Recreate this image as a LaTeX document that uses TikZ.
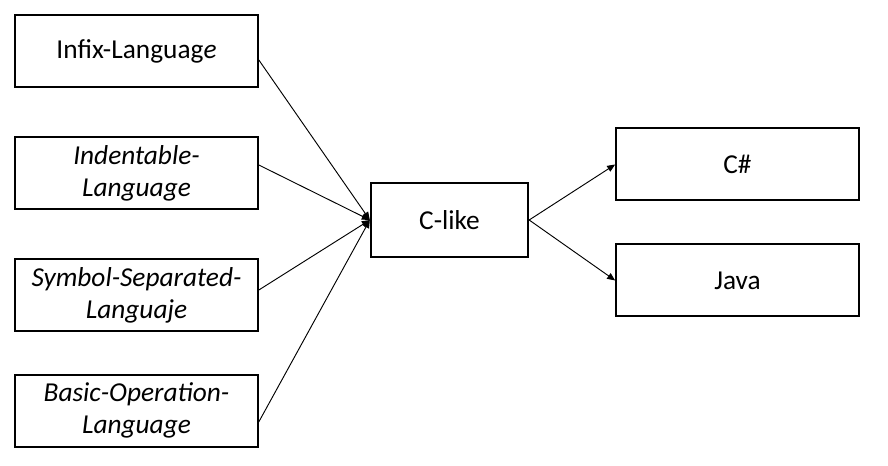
\documentclass[tikz,border=0pt]{standalone}
\usepackage{fontspec}
\setmainfont{Carlito}
\usetikzlibrary{arrows.meta}
\begin{document}
\begin{tikzpicture}[x=0.75pt,y=-0.75pt,
  box/.style={draw=black,line width=1.5pt,minimum width=182pt,minimum height=54pt,align=center,inner sep=0pt,font=\fontsize{20.5}{24}\selectfont},
  cbox/.style={box,minimum width=118pt,minimum height=56pt},
  conn/.style={line width=0.7pt,-{Triangle[length=6pt,width=5pt]}}]
\useasboundingbox (0,0) rectangle (888,466);
\node[box] (b1) at (136.5,51) {Infix-Languag\textit{e}};
\node[box] (b2) at (136.5,173) {\textit{Indentable-}\\\textit{Language}};
\node[box] (b3) at (136.5,295) {\textit{Symbol-Separated-}\\\textit{Languaje}};
\node[box] (b4) at (136.5,410.5) {\textit{Basic-Operation-}\\\textit{Language}};
\node[cbox] (c) at (449.5,220) {C-like};
\node[box] (cs) at (737.5,164.5) {C\#};
\node[box] (ja) at (737.5,280.5) {Java};
\draw[conn] ([yshift=-6.75pt]b1.east) -- (c.west);
\draw[conn] ([yshift=6pt]b2.east) -- (c.west);
\draw[conn] ([yshift=3.75pt]b3.east) -- (c.west);
\draw[conn] ([yshift=-8.5pt]b4.east) -- (c.west);
\draw[conn] (c.east) -- (cs.west);
\draw[conn] (c.east) -- (ja.west);
\end{tikzpicture}
\end{document}
